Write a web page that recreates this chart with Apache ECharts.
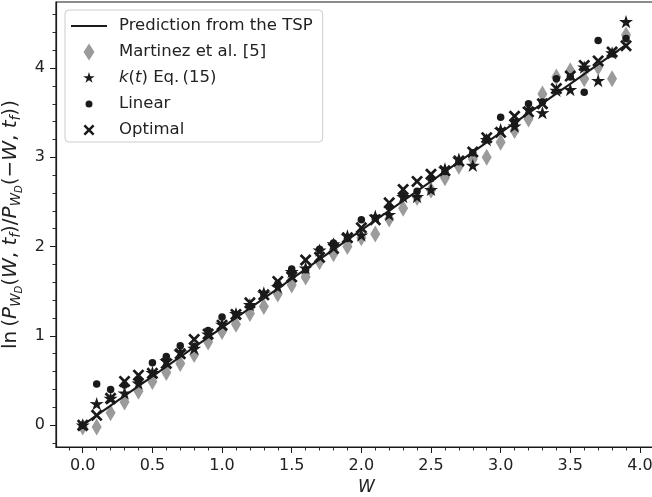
<!DOCTYPE html>
<html>
<head>
<meta charset="utf-8">
<script src="https://cdn.jsdelivr.net/npm/echarts@6/dist/echarts.min.js"></script>
<style>
  html, body { margin: 0; padding: 0; background: #fff; overflow: hidden; }
  #chart { width: 700px; height: 497px; }
</style>
</head>
<body>
<div id="chart"></div>
<script>
// Work values W and the log-ratio of forward/backward work distributions
const W = [0.0, 0.1, 0.2, 0.3, 0.4, 0.5, 0.6, 0.7, 0.8, 0.9,
           1.0, 1.1, 1.2, 1.3, 1.4, 1.5, 1.6, 1.7, 1.8, 1.9,
           2.0, 2.1, 2.2, 2.3, 2.4, 2.5, 2.6, 2.7, 2.8, 2.9,
           3.0, 3.1, 3.2, 3.3, 3.4, 3.5, 3.6, 3.7, 3.8, 3.9];

const martinez = [-0.02, -0.02, 0.14, 0.26, 0.38, 0.49, 0.59, 0.69, 0.79, 0.93,
                  1.05, 1.13, 1.25, 1.33, 1.47, 1.57, 1.66, 1.83, 1.92, 2.00,
                  2.10, 2.14, 2.31, 2.43, 2.55, 2.63, 2.77, 2.90, 2.98, 3.00,
                  3.17, 3.30, 3.43, 3.71, 3.90, 3.97, 3.88, 4.01, 3.88, 4.37];

const kEq15 = [0.00, 0.24, 0.30, 0.36, 0.47, 0.59, 0.72, 0.82, 0.86, 1.02,
               1.13, 1.25, 1.35, 1.48, 1.55, 1.72, 1.76, 1.96, 2.03, 2.12,
               2.13, 2.34, 2.36, 2.56, 2.56, 2.64, 2.87, 2.98, 2.91, 3.20,
               3.31, 3.35, 3.54, 3.50, 3.75, 3.76, 4.01, 3.86, 4.17, 4.52];

const linear = [0.00, 0.46, 0.40, 0.45, 0.50, 0.70, 0.77, 0.89, 0.88, 1.06,
                1.21, 1.24, 1.33, 1.47, 1.58, 1.75, 1.74, 1.97, 2.04, 2.09,
                2.30, 2.32, 2.44, 2.57, 2.62, 2.76, 2.84, 2.95, 3.05, 3.21,
                3.45, 3.39, 3.60, 3.62, 3.88, 3.90, 3.73, 4.31, 4.16, 4.33];

const optimal = [0.00, 0.11, 0.30, 0.49, 0.56, 0.58, 0.69, 0.80, 0.96, 1.02,
                 1.12, 1.24, 1.37, 1.46, 1.61, 1.66, 1.85, 1.88, 1.98, 2.10,
                 2.21, 2.30, 2.49, 2.64, 2.73, 2.81, 2.85, 2.96, 3.06, 3.22,
                 3.28, 3.46, 3.51, 3.60, 3.77, 3.91, 4.03, 4.08, 4.18, 4.25];

// TSP prediction: straight line through the origin
const tspW = [0.0, 3.9];
const tspValue = [0.0, 4.26];

// Axis ticks
const xMajorTicks = [0.0, 0.5, 1.0, 1.5, 2.0, 2.5, 3.0, 3.5, 4.0];
const xMinorTicks = [-0.1, 0.1, 0.2, 0.3, 0.4, 0.6, 0.7, 0.8, 0.9, 1.1, 1.2, 1.3, 1.4,
                     1.6, 1.7, 1.8, 1.9, 2.1, 2.2, 2.3, 2.4, 2.6, 2.7, 2.8, 2.9,
                     3.1, 3.2, 3.3, 3.4, 3.6, 3.7, 3.8, 3.9, 4.1, 4.2];
const yMajorTicks = [0, 1, 2, 3, 4];
const yMinorTicks = [-0.2, 0.2, 0.4, 0.6, 0.8, 1.2, 1.4, 1.6, 1.8, 2.2, 2.4, 2.6, 2.8,
                     3.2, 3.4, 3.6, 3.8, 4.2, 4.4, 4.6];

const FONT = 'DejaVu Sans';
const INK = '#1a1a1a';
const GREY = '#9b9b9b';

// Marker shapes
const STAR = 'path://M5,0L6.12,3.46L9.76,3.45L6.81,5.59L7.94,9.05L5,6.9L2.06,9.05L3.19,5.59L0.24,3.45L3.88,3.46Z';
const CROSS = 'path://M0,1.6L1.6,0L5,3.4L8.4,0L10,1.6L6.6,5L10,8.4L8.4,10L5,6.6L1.6,10L0,8.4L3.4,5Z';

// Legend icons laid out in an 18x18 box (corner anchors fix the box size)
const BOX = 'M0,0L0.01,0L0,0.01ZM18,18L17.99,18L18,17.99Z';
const ICON_DIAMOND = 'path://' + BOX + 'M9,0.5L14.5,9L9,17.5L3.5,9Z';
const ICON_STAR = 'path://' + BOX + 'M9,3L10.35,7.15L14.71,7.15L11.18,9.71L12.53,13.86L9,11.3L5.47,13.86L6.82,9.71L3.29,7.15L7.65,7.15Z';
const ICON_DOT = 'path://' + BOX + 'M5.5,9A3.5,3.5,0,1,1,12.5,9A3.5,3.5,0,1,1,5.5,9Z';
const ICON_CROSS = 'path://' + BOX + 'M3.5,5.26L5.26,3.5L9,7.24L12.74,3.5L14.5,5.26L10.76,9L14.5,12.74L12.74,14.5L9,10.76L5.26,14.5L3.5,12.74L7.24,9Z';

const pairs = (xs, ys) => xs.map((x, i) => [x, ys[i]]);

const yName = '{n|ln\u2009(}{i|P}{s|W}{ss|D}{n|(}{i|W}{n|, }{i|t}{s|f}{n|)/}' +
              '{i|P}{s|W}{ss|D}{n|(\u2212}{i|W}{n|, }{i|t}{s|f}{n|))}';

const chart = echarts.init(document.getElementById('chart'), null, { renderer: 'canvas' });

const labelText = { fontFamily: FONT, fontSize: 16, color: '#222' };
const LEG_FS = 16.5;

chart.setOption({
  animation: false,
  backgroundColor: '#fff',
  grid: {
    left: 56, top: 2, width: 621, height: 445,
    containLabel: false, outerBoundsMode: 'none',
    show: true, borderColor: INK, borderWidth: 1.2, backgroundColor: 'transparent'
  },
  legend: {
    orient: 'vertical',
    left: 65, top: 10,
    padding: [7, 10, 3, 5],
    itemWidth: 36, itemHeight: 18, itemGap: 8,
    symbolKeepAspect: true,
    lineStyle: { width: 2 },
    backgroundColor: 'rgba(255,255,255,0.85)',
    borderColor: '#cccccc', borderWidth: 1, borderRadius: 4,
    data: [
      // plain line sample: the marker drawn on it is made invisible
      { name: 'Prediction from the TSP',
        lineStyle: { color: INK, width: 2 },
        itemStyle: { color: 'rgba(0,0,0,0)', borderColor: 'rgba(0,0,0,0)', borderWidth: 0 } },
      { name: 'Martinez et al. [5]', icon: ICON_DIAMOND },
      { name: 'k(t) Eq. (15)', icon: ICON_STAR },
      { name: 'Linear', icon: ICON_DOT },
      { name: 'Optimal', icon: ICON_CROSS }
    ],
    formatter: function (name) {
      if (name === 'k(t) Eq. (15)') {
        return '{sp| }{i|k}{r|(}{i|t}{r|) Eq.\u2009(15)}';
      }
      return '{sp| }{r|' + name + '}';
    },
    textStyle: {
      fontFamily: FONT, fontSize: LEG_FS, color: '#222', lineHeight: 18,
      rich: {
        sp: { width: 7, fontSize: LEG_FS },
        r: { fontFamily: FONT, fontSize: LEG_FS, color: '#222', lineHeight: 18 },
        i: { fontFamily: FONT, fontSize: LEG_FS, fontStyle: 'italic', color: '#222', lineHeight: 18 }
      }
    },
    selectedMode: false
  },
  xAxis: [
    {
      type: 'value', min: -0.192, max: 4.266, position: 'bottom',
      name: 'W', nameLocation: 'middle', nameGap: 32,
      nameTextStyle: { fontFamily: FONT, fontSize: 17, fontStyle: 'italic', color: '#222' },
      axisLine: { show: true, onZero: false, lineStyle: { color: INK, width: 1.2 } },
      axisTick: { show: true, length: 6, lineStyle: { color: INK, width: 1 }, customValues: xMajorTicks },
      axisLabel: Object.assign({ margin: 11, customValues: xMajorTicks,
        formatter: v => v.toFixed(1) }, labelText),
      splitLine: { show: false }
    },
    {
      type: 'value', min: -0.192, max: 4.266, position: 'bottom',
      axisLine: { show: false, onZero: false },
      axisTick: { show: true, length: 3.5, lineStyle: { color: INK, width: 0.9 }, customValues: xMinorTicks },
      axisLabel: { show: false },
      splitLine: { show: false }
    }
  ],
  yAxis: [
    {
      type: 'value', min: -0.245, max: 4.74, position: 'left',
      name: yName, nameLocation: 'middle', nameGap: 27, nameRotate: 90,
      nameTextStyle: {
        fontFamily: FONT, fontSize: 20, color: '#222',
        rich: {
          n: { fontFamily: FONT, fontSize: 20, color: '#222', lineHeight: 26 },
          i: { fontFamily: FONT, fontSize: 20, fontStyle: 'italic', color: '#222', lineHeight: 26 },
          s: { fontFamily: FONT, fontSize: 13.5, fontStyle: 'italic', color: '#222', lineHeight: 13, verticalAlign: 'bottom' },
          ss: { fontFamily: FONT, fontSize: 10, fontStyle: 'italic', color: '#222', lineHeight: 7, verticalAlign: 'bottom' }
        }
      },
      axisLine: { show: true, onZero: false, lineStyle: { color: INK, width: 1.2 } },
      axisTick: { show: true, length: 6, lineStyle: { color: INK, width: 1 }, customValues: yMajorTicks },
      axisLabel: Object.assign({ margin: 11, customValues: yMajorTicks,
        formatter: v => String(Math.round(v)) }, labelText),
      splitLine: { show: false }
    },
    {
      type: 'value', min: -0.245, max: 4.74, position: 'left',
      axisLine: { show: false, onZero: false },
      axisTick: { show: true, length: 3.5, lineStyle: { color: INK, width: 0.9 }, customValues: yMinorTicks },
      axisLabel: { show: false },
      splitLine: { show: false }
    }
  ],
  series: [
    {
      name: 'Martinez et al. [5]', type: 'scatter', z: 2,
      symbol: 'diamond', symbolSize: [10, 17],
      itemStyle: { color: GREY, opacity: 1 },
      data: pairs(W, martinez)
    },
    {
      name: 'k(t) Eq. (15)', type: 'scatter', z: 2,
      symbol: STAR, symbolSize: 14, symbolKeepAspect: true,
      itemStyle: { color: INK, opacity: 1 },
      data: pairs(W, kEq15)
    },
    {
      name: 'Linear', type: 'scatter', z: 2,
      symbol: 'circle', symbolSize: 7.5,
      itemStyle: { color: INK, opacity: 1 },
      data: pairs(W, linear)
    },
    {
      name: 'Optimal', type: 'scatter', z: 2,
      symbol: CROSS, symbolSize: 12,
      itemStyle: { color: INK, opacity: 1 },
      data: pairs(W, optimal)
    },
    {
      name: 'Prediction from the TSP', type: 'line', z: 5,
      symbol: 'none', showSymbol: false,
      lineStyle: { color: INK, width: 2 },
      itemStyle: { color: INK },
      data: pairs(tspW, tspValue)
    }
  ]
});
</script>
</body>
</html>
